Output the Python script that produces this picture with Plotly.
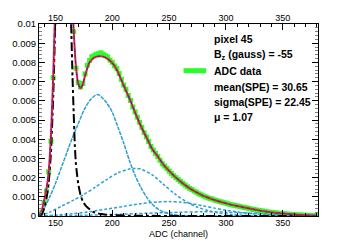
import plotly.graph_objects as go

# ---------------- data ----------------
data_x = list(range(136, 381, 2))
data_y = [0.00000, 0.00020, 0.00070, 0.00130, 0.00230, 0.00390, 0.00720, 0.01180, 0.01720, 0.02200,
          0.02620, 0.02700, 0.02480, 0.01900, 0.01270, 0.00960, 0.00770, 0.00695, 0.00672, 0.00690,
          0.00740, 0.00785, 0.00810, 0.00830, 0.00835, 0.00842, 0.00845, 0.00850, 0.00842, 0.00835,
          0.00828, 0.00812, 0.00800, 0.00782, 0.00768, 0.00742, 0.00712, 0.00682, 0.00660, 0.00628,
          0.00602, 0.00568, 0.00542, 0.00515, 0.00488, 0.00462, 0.00434, 0.00412, 0.00388, 0.00362,
          0.00344, 0.00326, 0.00310, 0.00290, 0.00272, 0.00260, 0.00248, 0.00234, 0.00222, 0.00210,
          0.00200, 0.00190, 0.00180, 0.00170, 0.00161, 0.00152, 0.00144, 0.00138, 0.00130, 0.00124,
          0.00116, 0.00111, 0.00105, 0.00100, 0.00095, 0.00091, 0.00088, 0.00083, 0.00080, 0.00076,
          0.00073, 0.00070, 0.00067, 0.00063, 0.00060, 0.00057, 0.00055, 0.00052, 0.00050, 0.00047,
          0.00045, 0.00042, 0.00040, 0.00037, 0.00034, 0.00032, 0.00030, 0.00028, 0.00026, 0.00024,
          0.00022, 0.00020, 0.00019, 0.00017, 0.00016, 0.00015, 0.00013, 0.00012, 0.00011, 0.00010,
          0.00009, 0.00008, 0.00007, 0.00006, 0.00005, 0.00005, 0.00004, 0.00004, 0.00003, 0.00003,
          0.00002, 0.00002, 0.00001]

fit_x = [136, 138, 140, 142, 144, 146, 148, 150, 152, 154, 156, 158, 160, 162, 164, 166, 168, 170,
         172, 174, 176, 178, 180, 183, 186, 189, 192, 195, 198, 201, 204, 207, 210, 213, 216, 220,
         225, 230, 235, 240, 245, 250, 255, 260, 265, 270, 275, 280, 285, 290, 295, 300, 305, 310,
         315, 320, 325, 330, 335, 340, 345, 350, 355, 360, 365, 370, 375, 380]
fit_y = [0.00005, 0.00030, 0.00080, 0.00140, 0.00230, 0.00420, 0.00730, 0.01150, 0.01700, 0.02200,
         0.02600, 0.02700, 0.02500, 0.01900, 0.01250, 0.00970, 0.00780, 0.00690, 0.00665, 0.00685,
         0.00730, 0.00770, 0.00800, 0.00820, 0.00830, 0.00832, 0.00830, 0.00822, 0.00808, 0.00790,
         0.00760, 0.00722, 0.00680, 0.00640, 0.00600, 0.00540, 0.00470, 0.00410, 0.00350, 0.00310,
         0.00268, 0.00235, 0.00205, 0.00180, 0.00157, 0.00137, 0.00120, 0.00105, 0.00094, 0.00083,
         0.00074, 0.00066, 0.00058, 0.00052, 0.00046, 0.00040, 0.00034, 0.00028, 0.00023, 0.00019,
         0.00016, 0.00013, 0.00010, 0.00008, 0.00006, 0.00004, 0.00003, 0.00002]

ped_x = [136, 138, 140, 142, 144, 146, 148, 150, 152, 154, 156, 158, 160, 161, 162, 163, 164, 165,
         166, 167, 168, 169, 170, 172, 174, 176, 178, 183, 190, 200, 210, 230, 260, 300, 380]
ped_y = [0.00002, 0.00010, 0.00040, 0.00090, 0.00170, 0.00330, 0.00620, 0.01050, 0.01600, 0.02150,
         0.02550, 0.02650, 0.02400, 0.02000, 0.01550, 0.01150, 0.00950, 0.00720, 0.00540, 0.00370,
         0.00270, 0.00215, 0.00170, 0.00110, 0.00078, 0.00058, 0.00045, 0.00022, 0.00010, 0.00005,
         0.00002, 0.00001, 0.00000, 0.00000, 0.00000]

spe1_x = [136, 140, 145, 150, 155, 160, 165, 170, 175, 180, 185, 188, 190, 195, 200, 205, 210, 215,
          220, 225, 230, 235, 240, 245, 250, 255, 260, 270, 280, 380]
spe1_y = [0.00000, 0.00040, 0.00100, 0.00170, 0.00250, 0.00330, 0.00410, 0.00480, 0.00550, 0.00600,
          0.00628, 0.00632, 0.00622, 0.00590, 0.00540, 0.00462, 0.00380, 0.00290, 0.00212, 0.00150,
          0.00100, 0.00062, 0.00037, 0.00021, 0.00012, 0.00006, 0.00003, 0.00001, 0.00000, 0.00000]

spe2_x = [136, 145, 155, 165, 175, 185, 195, 205, 215, 220, 225, 235, 245, 255, 265, 275, 285, 295,
          305, 320, 340, 380]
spe2_y = [0.00000, 0.00020, 0.00050, 0.00080, 0.00112, 0.00150, 0.00190, 0.00225, 0.00245, 0.00248,
          0.00244, 0.00215, 0.00165, 0.00115, 0.00075, 0.00046, 0.00027, 0.00015, 0.00008, 0.00003,
          0.00001, 0.00000]

spe3_x = [136, 150, 165, 180, 195, 210, 225, 240, 250, 260, 270, 280, 290, 300, 310, 320, 335, 350, 380]
spe3_y = [0.00000, 0.00005, 0.00012, 0.00022, 0.00036, 0.00050, 0.00064, 0.00073, 0.00075, 0.00072,
          0.00064, 0.00053, 0.00041, 0.00030, 0.00021, 0.00014, 0.00007, 0.00003, 0.00001]

spe4_x = [136, 160, 190, 220, 250, 280, 300, 320, 340, 360, 380]
spe4_y = [0.00000, 0.00002, 0.00006, 0.00012, 0.00018, 0.00022, 0.00020, 0.00015, 0.00010, 0.00006, 0.00003]

x_ticks = [150, 200, 250, 300, 350]
y_ticks = [0, 0.001, 0.002, 0.003, 0.004, 0.005, 0.006, 0.007, 0.008, 0.009, 0.01]
y_ticktext = ["0", "0.001", "0.002", "0.003", "0.004", "0.005", "0.006", "0.007", "0.008", "0.009", "0.01"]

legend_lines = ["pixel 45", "B<sub>z</sub> (gauss) = -55", "ADC data",
                "mean(SPE) = 30.65", "sigma(SPE) = 22.45", "\u03bc = 1.07"]
x_title = "ADC (channel)"

# ---------------- figure ----------------
FONT = "Liberation Sans, Arial, Helvetica, sans-serif"
GREEN = "rgb(40,255,40)"
BLUE = "rgb(40,160,212)"
XR = [135.5, 381]

fig = go.Figure()

fig.add_trace(go.Scatter(x=data_x, y=data_y, mode="markers",
                         marker=dict(symbol="square", size=5, color=GREEN, line=dict(width=0))))

for xs, ys, dash, w in [(spe1_x, spe1_y, "4px,1px", 1.5), (spe2_x, spe2_y, "3px,2px", 1.5),
                        (spe3_x, spe3_y, "3px,2px", 1.5), (spe4_x, spe4_y, "3px,2px", 1.5)]:
    fig.add_trace(go.Scatter(x=xs, y=ys, mode="lines",
                             line=dict(color=BLUE, width=w, dash=dash, shape="spline", smoothing=0.8)))

fig.add_trace(go.Scatter(x=ped_x, y=ped_y, mode="lines",
                         line=dict(color="black", width=2, dash="dashdot", shape="spline", smoothing=0.5)))

fig.add_trace(go.Scatter(x=fit_x, y=fit_y, mode="lines",
                         line=dict(color="rgb(235,30,30)", width=2, shape="spline", smoothing=0.6)))
fig.add_trace(go.Scatter(x=fit_x, y=fit_y, mode="lines",
                         line=dict(color="rgb(30,40,255)", width=1, dash="dot", shape="spline", smoothing=0.6)))

# dummy trace for top axis
fig.add_trace(go.Scatter(x=XR, y=[None, None], xaxis="x2", mode="lines", hoverinfo="skip"))

fig.update_layout(
    width=354, height=241,
    margin=dict(l=36, r=36, t=24, b=25),
    paper_bgcolor="white", plot_bgcolor="white",
    showlegend=False,
    font=dict(family=FONT, size=9, color="black"),
    xaxis=dict(range=XR, showgrid=False, zeroline=False, showline=True, linecolor="black",
               linewidth=1, mirror=True, ticks="inside", ticklen=6, tickwidth=1, tickcolor="black",
               tickvals=x_ticks, tickfont=dict(size=9), ticklabelstandoff=-2,
               minor=dict(ticks="inside", dtick=10, tick0=0, ticklen=3, tickcolor="black")),
    xaxis2=dict(range=XR, overlaying="x", side="top", anchor="y", showgrid=False, zeroline=False,
                showline=False, ticks="inside", ticklen=6, tickwidth=1, tickcolor="black",
                tickvals=x_ticks, tickfont=dict(size=9),
                minor=dict(ticks="inside", dtick=10, tick0=0, ticklen=3, tickcolor="black")),
    yaxis=dict(range=[0, 0.01], showgrid=False, zeroline=False, showline=True, linecolor="black",
               linewidth=1, mirror="ticks", ticks="inside", ticklen=6, tickwidth=1, tickcolor="black",
               tickvals=y_ticks, ticktext=y_ticktext, tickfont=dict(size=9.5),
               minor=dict(ticks="inside", dtick=0.0002, tick0=0, ticklen=3, tickcolor="gray")),
)

fig.add_annotation(text=x_title, xref="paper", yref="paper", x=0.5, y=-0.095,
                   xanchor="center", yanchor="middle", showarrow=False, font=dict(size=9))

rows_y = [0.922, 0.841, 0.757, 0.672, 0.596, 0.516]
for txt, yy in zip(legend_lines, rows_y):
    fig.add_annotation(text="<b>" + txt + "</b>", xref="paper", yref="paper", x=0.6195, y=yy,
                       xanchor="left", yanchor="middle", showarrow=False,
                       font=dict(size=10.5, family=FONT))

fig.add_shape(type="line", xref="paper", yref="paper", x0=0.518, x1=0.599, y0=0.757, y1=0.757,
              line=dict(color=GREEN, width=5))

fig.write_html("out.html", config={"displayModeBar": False},
               post_script="document.body.style.margin='0';document.body.style.padding='0';"
                           "document.documentElement.style.overflow='hidden';")
